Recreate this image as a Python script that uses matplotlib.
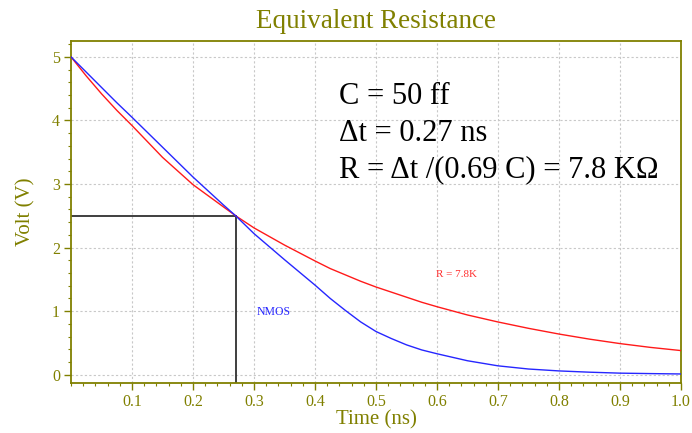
import matplotlib
matplotlib.use("Agg")
import matplotlib.pyplot as plt
from matplotlib.ticker import MultipleLocator

# Sample times (ns)
time_ns = [0.0, 0.025, 0.05, 0.075, 0.10, 0.15, 0.20, 0.25, 0.27, 0.30, 0.35, 0.40,
           0.425, 0.45, 0.475, 0.50, 0.525, 0.55, 0.575, 0.60, 0.65, 0.70, 0.75,
           0.80, 0.85, 0.90, 0.95, 1.0]

# RC model with R = 7.8K (V)
v_rc = [5.00, 4.70, 4.42, 4.16, 3.92, 3.42, 2.99, 2.64, 2.50, 2.31, 2.04, 1.79,
        1.67, 1.57, 1.47, 1.38, 1.30, 1.22, 1.14, 1.07, 0.94, 0.83, 0.73,
        0.64, 0.56, 0.49, 0.43, 0.38]

# NMOS discharge (V)
v_nmos = [5.00, 4.76, 4.52, 4.28, 4.05, 3.58, 3.11, 2.67, 2.50, 2.22, 1.81, 1.41,
          1.20, 1.01, 0.83, 0.68, 0.57, 0.47, 0.39, 0.33, 0.22, 0.14, 0.09,
          0.06, 0.04, 0.025, 0.018, 0.012]

# Half-swing point
t_half = 0.27
v_half = 2.5

x_ticks = [0.1, 0.2, 0.3, 0.4, 0.5, 0.6, 0.7, 0.8, 0.9, 1.0]
x_tick_labels = ["0.1", "0.2", "0.3", "0.4", "0.5", "0.6", "0.7", "0.8", "0.9", "1.0"]
y_ticks = [0, 1, 2, 3, 4, 5]
y_tick_labels = ["0", "1", "2", "3", "4", "5"]

notes = ["C = 50 ff", "Δt = 0.27 ns", "R = Δt /(0.69 C) = 7.8 KΩ"]

OLIVE = "#808000"
SERIF = ["Liberation Serif", "DejaVu Serif"]
plt.rcParams["font.family"] = SERIF

fig = plt.figure(figsize=(6.92, 4.33), dpi=100)
ax = fig.add_axes([71 / 692, 50 / 433, 610 / 692, 342 / 433])

ax.set_xlim(0.0, 1.0)
ax.set_ylim(-0.13, 5.25)

# grid
ax.grid(True, which="major", color="#c8c8c8", linestyle=(0, (2, 2)), linewidth=0.8)
ax.set_axisbelow(True)

# curves
ax.plot(time_ns, v_rc, color="#ff1a1a", linewidth=1.0, zorder=3)
ax.plot(time_ns, v_nmos, color="#2626ff", linewidth=1.0, zorder=3)

# half-swing markers
ax.plot([0.0, t_half], [v_half, v_half], color="#303030", linewidth=1.3, zorder=2)
ax.plot([t_half, t_half], [v_half, -0.13], color="#303030", linewidth=1.3, zorder=2)

# curve labels
ax.text(0.304, 0.98, "NMOS", color="#2626ff", fontsize=8.5, va="center", ha="left")
ax.text(0.598, 1.57, "R = 7.8K", color="#ff3030", fontsize=8, va="center", ha="left")

# notes
for txt, yv in zip(notes, [4.26, 3.68, 3.10]):
    ax.text(0.439, yv, txt, fontsize=22, color="black", va="baseline", ha="left")

# ticks
ax.set_xticks(x_ticks)
ax.set_xticklabels(x_tick_labels)
ax.set_yticks(y_ticks)
ax.set_yticklabels(y_tick_labels)
ax.xaxis.set_minor_locator(MultipleLocator(0.02))
ax.yaxis.set_minor_locator(MultipleLocator(0.2))
ax.tick_params(which="major", direction="out", length=5, width=1.0, color=OLIVE,
               labelcolor=OLIVE, labelsize=11.5, pad=3)
ax.tick_params(which="minor", direction="out", length=2.5, width=0.8, color=OLIVE)

for sp in ax.spines.values():
    sp.set_color(OLIVE)
    sp.set_linewidth(1.3)

ax.set_xlabel("Time (ns)", color=OLIVE, fontsize=15, labelpad=0)
ax.set_ylabel("Volt (V)", color=OLIVE, fontsize=15, labelpad=12)
ax.set_title("Equivalent Resistance", color=OLIVE, fontsize=19.5, pad=9)

fig.savefig("out.png", dpi=100)
